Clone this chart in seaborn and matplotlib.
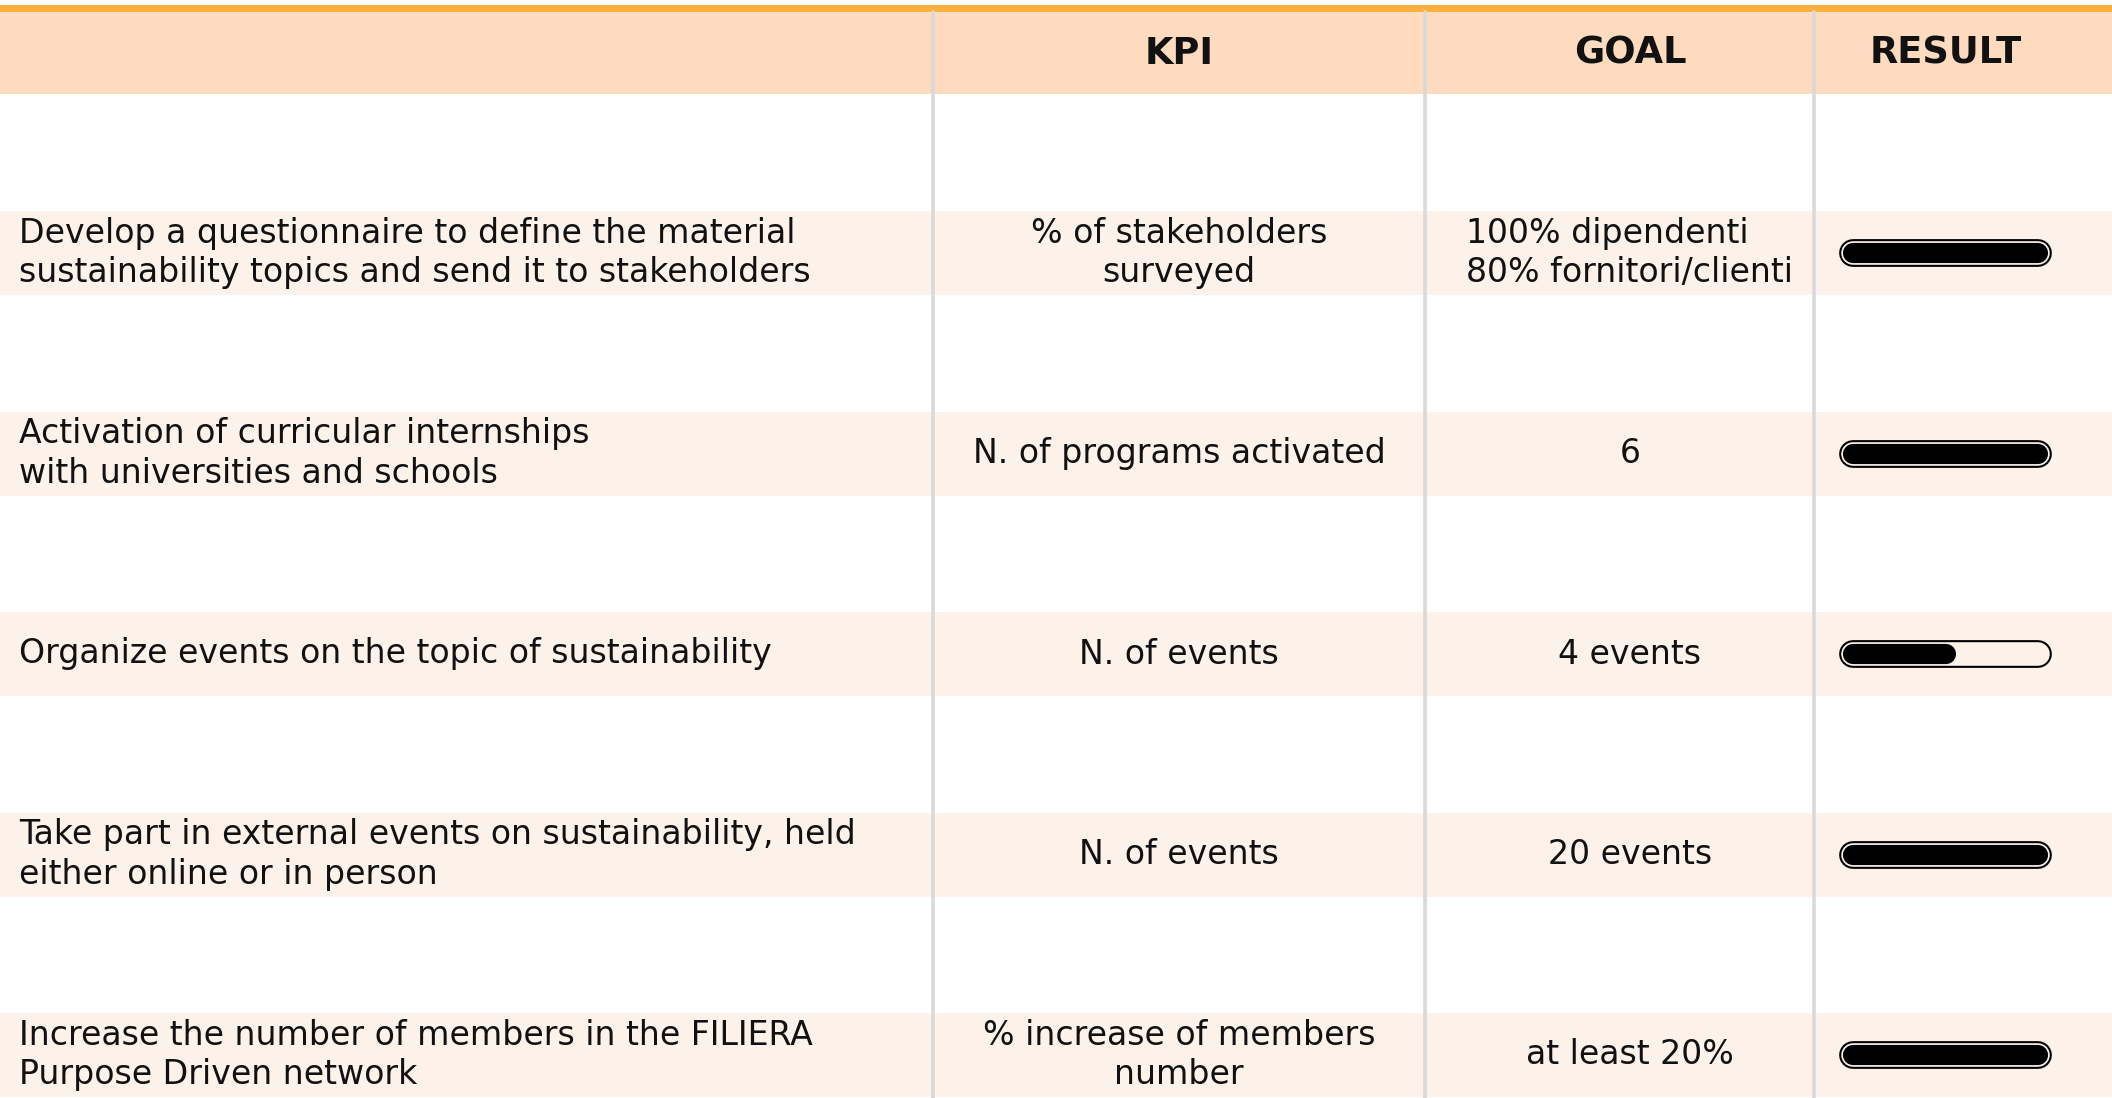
import matplotlib
matplotlib.use("Agg")
import matplotlib.pyplot as plt
import seaborn as sns

# Contenuto della tabella
headers = ["", "KPI", "GOAL", "RESULT"]
objectives = [
    "Develop a questionnaire to define the material\nsustainability topics and send it to stakeholders",
    "Activation of curricular internships\nwith universities and schools",
    "Organize events on the topic of sustainability",
    "Take part in external events on sustainability, held\neither online or in person",
    "Increase the number of members in the FILIERA\nPurpose Driven network",
]
kpis = [
    "% of stakeholders\nsurveyed",
    "N. of programs activated",
    "N. of events",
    "N. of events",
    "% increase of members\nnumber",
]
goals = [
    "100% dipendenti\n80% fornitori/clienti",
    "6",
    "4 events",
    "20 events",
    "at least 20%",
]
results = [1.0, 1.0, 0.5, 1.0, 1.0]  # quota raggiunta

# Layout (pixel)
W, H = 2112, 1098
DIVIDERS = [933, 1425, 1814]
HEADER_TOP, HEADER_BOTTOM = 12, 94
ROW_TOP, ROW_PITCH, BAND_H = 211, 200.5, 84
TEXT_X = [19, 1179, 1630, 1946]
BAR_X0, BAR_X1 = 1853, 2038

ORANGE = "#FBB03B"
HEADER_BG = "#FEDABF"
BAND_BG = "#FDF2EA"
GRID = "#D9D9D9"
INK = "#111111"
BODY_SIZE = 23.9
LINE_SPACING = 1.26

sns.set_theme(style="white")
plt.rcParams["font.family"] = ["DejaVu Sans"]

fig = plt.figure(figsize=(W / 100, H / 100), dpi=100)
ax = fig.add_axes([0, 0, 1, 1])
ax.set_xlim(0, W)
ax.set_ylim(H, 0)
ax.axis("off")

# Intestazione
ax.axhspan(HEADER_TOP, HEADER_BOTTOM, color=HEADER_BG, lw=0, zorder=0)
ax.axhspan(5, HEADER_TOP, color=ORANGE, lw=0, zorder=1)
for x, label in zip(TEXT_X[1:], headers[1:]):
    ax.text(x, (HEADER_TOP + HEADER_BOTTOM) / 2, label, ha="center", va="center",
            fontsize=26.5, fontweight="bold", color=INK)

# Righe
for i, (obj, kpi, goal, res) in enumerate(zip(objectives, kpis, goals, results)):
    top = ROW_TOP + i * ROW_PITCH
    yc = top + BAND_H / 2
    ax.axhspan(top, top + BAND_H, color=BAND_BG, lw=0, zorder=0)
    ax.text(TEXT_X[0], yc, obj, ha="left", va="center", fontsize=BODY_SIZE,
            color=INK, linespacing=LINE_SPACING)
    ax.text(TEXT_X[1], yc, kpi, ha="center", va="center", fontsize=BODY_SIZE,
            color=INK, linespacing=LINE_SPACING)
    ax.text(TEXT_X[2], yc, goal, ha="center", va="center", fontsize=BODY_SIZE,
            color=INK, linespacing=LINE_SPACING, multialignment="left")

    # Barra di avanzamento
    ax.plot([BAR_X0, BAR_X1], [yc, yc], color="black", lw=20,
            solid_capstyle="round", zorder=3)
    ax.plot([BAR_X0, BAR_X1], [yc, yc], color=BAND_BG, lw=17,
            solid_capstyle="round", zorder=4)
    ax.plot([BAR_X0, BAR_X0 + res * (BAR_X1 - BAR_X0)], [yc, yc], color="black",
            lw=14.5, solid_capstyle="round", zorder=5)

# Separatori verticali
for x in DIVIDERS:
    ax.plot([x, x], [HEADER_TOP, H], color=GRID, lw=2.6, zorder=2)

fig.savefig("out.png", dpi=100)
plt.close(fig)
